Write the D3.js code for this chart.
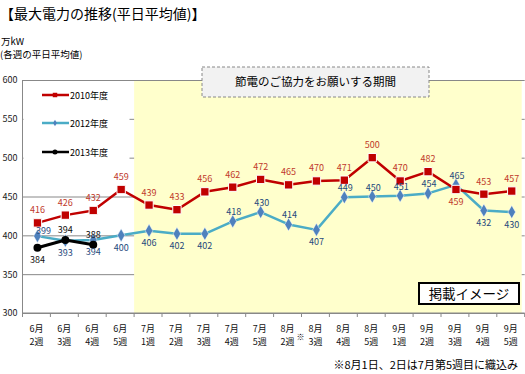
<!DOCTYPE html>
<html lang="ja">
<head>
<meta charset="UTF-8">
<title>最大電力の推移</title>
<script src="https://cdn.jsdelivr.net/npm/d3@7"></script>
<style>
  body { margin: 0; background: #fff; }
  text { font-family: "Noto Sans CJK JP", sans-serif; }
</style>
</head>
<body>
<div id="chart"></div>
<script>
// data
const months = ["6月","6月","6月","6月","7月","7月","7月","7月","7月","8月","8月","8月","8月","9月","9月","9月","9月","9月"];
const weeks  = ["2週","3週","4週","5週","1週","2週","3週","4週","5週","2週","3週","4週","5週","1週","2週","3週","4週","5週"];
const v2010 = [416, 426, 432, 459, 439, 433, 456, 462, 472, 465, 470, 471, 500, 470, 482, 459, 453, 457];
const v2012 = [399, 393, 394, 400, 406, 402, 402, 418, 430, 414, 407, 449, 450, 451, 454, 465, 432, 430];
const v2013 = [384, 394, 388];
const yTicks = [300, 350, 400, 450, 500, 550, 600];
// label placement: a = above, b = below, r = upper right
const pos2010 = ["a","a","a","a","a","a","a","a","a","a","a","a","a","a","a","b","a","a"];
const pos2012 = ["r","b","b","b","b","b","b","a","a","a","b","a","a","a","a","a","b","b"];
const pos2013 = ["b","a","a"];

const W = 525, H = 374;
const pLeft = 22.5, pRight = 524.7, pTop = 80, pBottom = 313;

const svg = d3.select('#chart').append('svg').attr('width', W).attr('height', H);

const x = d3.scaleBand().domain(d3.range(months.length)).range([pLeft, pRight]);
const y = d3.scaleLinear().domain([300, 600]).range([pBottom, pTop]);
const cx = i => x(i) + x.bandwidth() / 2 + 1;

// title
svg.append('text').attr('x', 0).attr('y', 19).attr('font-size', 14).attr('fill', '#000')
  .text('【最大電力の推移(平日平均値)】');
svg.append('text').attr('x', 1).attr('y', 45).attr('font-size', 9.5).text('万kW');
svg.append('text').attr('x', 0).attr('y', 58).attr('font-size', 9.5).text('(各週の平日平均値)');

// y axis + grid
const yAxis = svg.append('g').attr('transform', `translate(${pLeft},0)`)
  .call(d3.axisLeft(y).tickValues(yTicks).tickSize(-(pRight - pLeft)).tickPadding(5));
yAxis.select('.domain').remove();
yAxis.selectAll('line').attr('stroke', '#888').attr('stroke-width', 1);
yAxis.selectAll('text').attr('font-size', 9).attr('fill', '#222')
  .style('font-family', '"Noto Sans CJK JP", sans-serif');

// saving period band
svg.append('rect').attr('x', x(4)).attr('y', y(600) + 1)
  .attr('width', pRight - 3 - x(4)).attr('height', pBottom - y(600) - 1)
  .attr('fill', '#ffffcc');

// legend box
svg.append('rect').attr('x', pLeft + 1).attr('y', y(600) + 2).attr('width', 106).attr('height', 95).attr('fill', '#fff');

// axes lines
svg.append('line').attr('x1', pLeft).attr('x2', pLeft).attr('y1', pTop).attr('y2', pBottom).attr('stroke', '#888');
svg.append('line').attr('x1', pLeft).attr('x2', pRight).attr('y1', pBottom).attr('y2', pBottom).attr('stroke', '#888');
svg.append('g').selectAll('line').data(d3.range(months.length + 1)).join('line')
  .attr('x1', i => i < months.length ? x(i) : pRight).attr('x2', i => i < months.length ? x(i) : pRight)
  .attr('y1', pBottom).attr('y2', pBottom + 4).attr('stroke', '#888');

// x labels
const xl = svg.append('g').selectAll('text').data(d3.range(months.length)).join('text')
  .attr('x', i => x(i) + x.bandwidth() / 2).attr('text-anchor', 'middle').attr('font-size', 9).attr('fill', '#111');
xl.append('tspan').attr('x', i => x(i) + x.bandwidth() / 2).attr('y', 332).text(i => months[i]);
xl.append('tspan').attr('x', i => x(i) + x.bandwidth() / 2).attr('y', 345).text(i => weeks[i]);
svg.append('text').attr('x', x(10) - 1).attr('y', 340).attr('text-anchor', 'middle')
  .attr('font-size', 8).attr('fill', '#000').text('※');

// series
const line = d3.line().x((d, i) => cx(i)).y(d => y(d));
const lineLayer = svg.append('g');
const labelLayer = svg.append('g');
function series(vals, color, lw, marker, labelColor, pos, offs) {
  const g = lineLayer.append('g');
  g.append('path').datum(vals).attr('d', line).attr('fill', 'none').attr('stroke', color).attr('stroke-width', lw).attr('stroke-linejoin', 'round');
  g.selectAll('.m').data(vals).join('path')
    .attr('transform', (d, i) => `translate(${cx(i)},${y(d)})`)
    .attr('d', marker.path).attr('fill', marker.fill).attr('stroke', marker.stroke).attr('stroke-width', marker.sw);
  labelLayer.append('g').selectAll('text').data(vals).join('text')
    .attr('x', (d, i) => cx(i) + offs[pos[i]][0]).attr('y', (d, i) => y(d) + offs[pos[i]][1])
    .attr('text-anchor', 'middle').attr('font-size', 9).attr('fill', labelColor).text(d => d);
}
const sq = { path: d3.symbol(d3.symbolSquare, 70)(), fill: '#c00000', stroke: '#fff', sw: 1 };
const dia = { path: d3.symbol(d3.symbolDiamond, 50)(), fill: '#4f81bd', stroke: '#fff', sw: 0.5 };
const circ = { path: d3.symbol(d3.symbolCircle, 50)(), fill: '#000', stroke: '#000', sw: 0 };
series(v2012, '#4bacc6', 2.5, dia, '#1f497d', pos2012, { a: [1, -6], b: [0, 15.5], r: [6, -2] });
series(v2010, '#c00000', 2.5, sq, '#c0392b', pos2010, { a: [0, -9.5], b: [0, 15.5] });
series(v2013, '#000', 3, circ, '#111', pos2013, { a: [0, -7], b: [0, 15.5] });

// legend
const legend = [['2010年度', '#c00000', sq, 95], ['2012年度', '#4bacc6', dia, 123], ['2013年度', '#000', circ, 152]];
legend.forEach(([name, color, m, ly]) => {
  svg.append('line').attr('x1', 42).attr('x2', 69).attr('y1', ly).attr('y2', ly).attr('stroke', color).attr('stroke-width', 2.5);
  const s = m === sq ? d3.symbol(d3.symbolSquare, 20)() : m === dia ? d3.symbol(d3.symbolDiamond, 12)() : d3.symbol(d3.symbolCircle, 20)();
  svg.append('path').attr('transform', `translate(55,${ly})`).attr('d', s).attr('fill', m.fill);
  svg.append('text').attr('x', 70).attr('y', ly + 3.5).attr('font-size', 9).text(name);
});

// callout
svg.append('rect').attr('x', 202).attr('y', 67).attr('width', 227).attr('height', 30)
  .attr('fill', '#f2f2f2').attr('stroke', '#888').attr('stroke-dasharray', '3,2');
svg.append('text').attr('x', 315.5).attr('y', 86).attr('text-anchor', 'middle').attr('font-size', 11.5).text('節電のご協力をお願いする期間');

// image label box
svg.append('rect').attr('x', 419).attr('y', 283).attr('width', 100).attr('height', 21)
  .attr('fill', '#fff').attr('stroke', '#000').attr('stroke-width', 2);
svg.append('text').attr('x', 469).attr('y', 298.5).attr('text-anchor', 'middle').attr('font-size', 13.5).text('掲載イメージ');

// footnote
svg.append('text').attr('x', 518).attr('y', 369).attr('text-anchor', 'end').attr('font-size', 11).text('※8月1日、2日は7月第5週目に織込み');
</script>
</body>
</html>
